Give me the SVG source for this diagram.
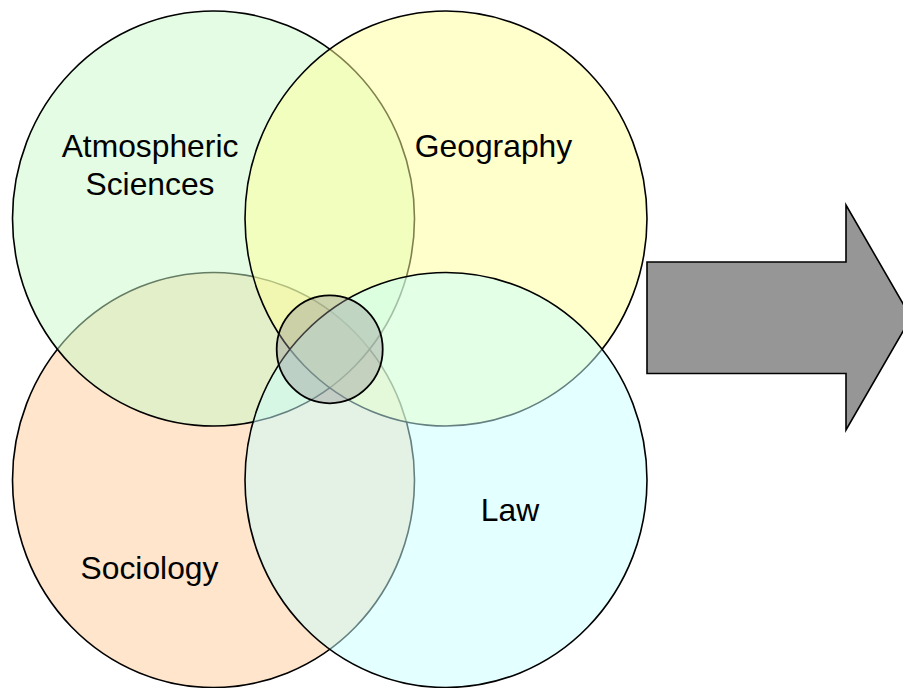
<svg xmlns="http://www.w3.org/2000/svg" width="903" height="688" viewBox="0 0 903 688">
  <style>
    .set { stroke: #000; stroke-width: 1.6; fill-opacity: 0.5; }
    .label { font-family: "Liberation Sans", Arial, sans-serif; font-size: 31.8px; fill: #000; text-anchor: middle; }
  </style>
  <rect width="903" height="688" fill="#fff"/>

  <!-- overlapping discipline sets, drawn bottom to top -->
  <g id="sociology">
    <ellipse class="set" cx="213.5" cy="480" rx="201" ry="207.5" fill="#FFCB97"/>
  </g>
  <g id="atmospheric-sciences">
    <ellipse class="set" cx="213.5" cy="218.5" rx="201" ry="207.5" fill="#C7F9C7"/>
  </g>
  <g id="geography">
    <ellipse class="set" cx="446" cy="218.5" rx="201" ry="207.5" fill="#FFFF99"/>
  </g>
  <g id="law">
    <ellipse class="set" cx="446" cy="480" rx="201" ry="207.5" fill="#C7FFFF"/>
  </g>
  <g id="core">
    <ellipse cx="329.7" cy="349.3" rx="53" ry="54" fill="#969696" fill-opacity="0.4" stroke="#000" stroke-width="1.8"/>
  </g>

  <!-- labels -->
  <g id="labels">
    <text class="label" x="150" y="157">Atmospheric</text>
    <text class="label" x="150" y="195">Sciences</text>
    <text class="label" x="493.5" y="157">Geography</text>
    <text class="label" x="149.5" y="579">Sociology</text>
    <text class="label" x="510" y="521">Law</text>
  </g>

  <!-- block arrow pointing right -->
  <g id="arrow">
    <polygon points="647,262 846,262 846,205 911,317.5 846,430 846,373.5 647,373.5" fill="#969696" stroke="#000" stroke-width="1.6" stroke-linejoin="miter"/>
  </g>
</svg>
